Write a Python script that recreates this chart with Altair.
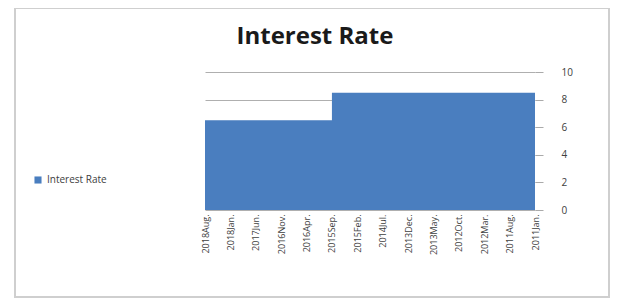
import altair as alt
import pandas as pd

# Monthly categories, newest first (2018 Aug -> 2011 Jan)
months = pd.date_range("2011-01-01", "2018-08-01", freq="MS")[::-1]
month_labels = [f"{d.year}{d.strftime('%b')}." for d in months]

rate_values = [
    6.5, 6.5, 6.5, 6.5, 6.5, 6.5, 6.5, 6.5, 6.5, 6.5,
    6.5, 6.5, 6.5, 6.5, 6.5, 6.5, 6.5, 6.5, 6.5, 6.5,
    6.5, 6.5, 6.5, 6.5, 6.5, 6.5, 6.5, 6.5, 6.5, 6.5,
    6.5, 6.5, 6.5, 6.5, 6.5,
    8.5, 8.5, 8.5, 8.5, 8.5, 8.5, 8.5, 8.5, 8.5, 8.5,
    8.5, 8.5, 8.5, 8.5, 8.5, 8.5, 8.5, 8.5, 8.5, 8.5,
    8.5, 8.5, 8.5, 8.5, 8.5, 8.5, 8.5, 8.5, 8.5, 8.5,
    8.5, 8.5, 8.5, 8.5, 8.5, 8.5, 8.5, 8.5, 8.5, 8.5,
    8.5, 8.5, 8.5, 8.5, 8.5, 8.5, 8.5, 8.5, 8.5, 8.5,
    8.5, 8.5, 8.5, 8.5, 8.5, 8.5, 8.5,
]
shown_labels = month_labels[::7]
y_ticks = [0, 2, 4, 6, 8, 10]
series_name = "Interest Rate"
title_text = "Interest Rate"

df = pd.DataFrame({"month": month_labels, "rate": rate_values, "series": series_name})

W, H = 330, 138
PL, PT = 197, 64

area = alt.Chart(df).mark_area(interpolate="step-after", color="#4a7ebf").encode(
    x=alt.X("month:N", sort=month_labels,
            scale=alt.Scale(type="point", padding=0),
            axis=alt.Axis(values=shown_labels, labelAngle=-90, title=None,
                          domain=False, ticks=False, labelFontSize=9,
                          labelColor="#404040", labelPadding=4,
                          labelFont="Open Sans")),
    y=alt.Y("rate:Q", scale=alt.Scale(domain=[0, 10]),
            axis=alt.Axis(orient="right", values=y_ticks, title=None,
                          domain=False, tickSize=8, tickColor="#aaaaaa",
                          labelFontSize=10, labelColor="#404040",
                          labelPadding=18, grid=True, gridColor="#9a9a9a",
                          gridWidth=0.8, labelFont="Open Sans")),
    color=alt.Color("series:N", scale=alt.Scale(range=["#4a7ebf"]),
                    legend=alt.Legend(orient="none", legendX=-172, legendY=103,
                                      title=None, symbolType="square",
                                      symbolSize=50, labelFontSize=10,
                                      labelColor="#404040", labelFont="Open Sans")),
)

title = alt.Chart(pd.DataFrame({"t": [title_text]})).mark_text(
    fontSize=24, font="Open Sans", fontWeight="bold", color="#1a1a1a",
    align="center", baseline="alphabetic"
).encode(text="t:N", x=alt.value(110), y=alt.value(-28))

border = alt.Chart(pd.DataFrame({"k": [0]})).mark_rect(
    fill=None, stroke="#cfcfcf", strokeWidth=2
).encode(
    x=alt.value(-190), x2=alt.value(404),
    y=alt.value(-64), y2=alt.value(291 - PT - 2),
)

chart = alt.layer(border, title, area).properties(
    width=W, height=H,
    autosize=alt.AutoSizeParams(type="none"),
    padding={"left": PL, "top": PT, "right": 76, "bottom": 291 - PT - H},
).configure_view(stroke=None)

chart.save("out.html", embed_options={"renderer": "svg", "actions": False})
